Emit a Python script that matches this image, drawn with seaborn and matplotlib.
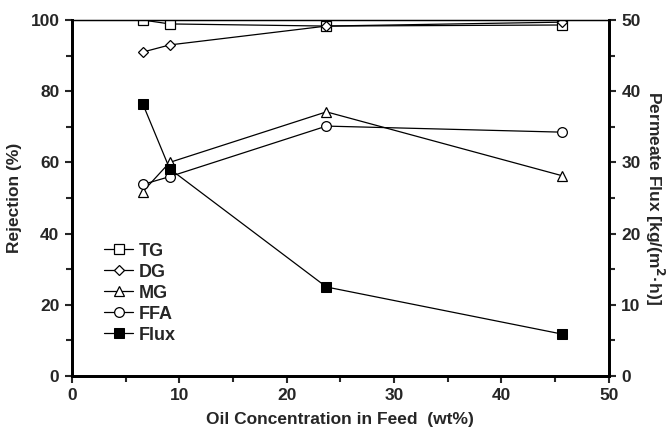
import matplotlib
matplotlib.use("Agg")
import matplotlib.pyplot as plt
import pandas as pd
import seaborn as sns
from matplotlib.ticker import MultipleLocator

# oil concentration in feed (wt%)
oil_conc = [6.6, 9.1, 23.7, 45.6]

# rejection (%)
tg = [100.0, 98.9, 98.3, 98.6]
dg = [91.0, 93.0, 98.3, 99.4]
mg = [51.8, 60.0, 74.2, 56.3]
ffa = [53.8, 56.0, 70.2, 68.5]

# permeate flux kg/(m2 h)
flux = [38.2, 29.1, 12.5, 5.9]

REJECTION_SERIES = [
    ("TG", tg, "s"),
    ("DG", dg, "D"),
    ("MG", mg, "^"),
    ("FFA", ffa, "o"),
]

sns.set_style("ticks")
plt.rcParams["font.family"] = ["Liberation Sans", "DejaVu Sans"]
plt.rcParams["font.weight"] = "bold"


def main():
    fig = plt.figure(figsize=(6.69, 4.38), dpi=100)
    ax = fig.add_axes([0.1076, 0.1416, 0.8024, 0.8127])
    ax2 = ax.twinx()

    handles = []
    for name, values, marker in REJECTION_SERIES:
        df = pd.DataFrame({"x": oil_conc, "y": values})
        size = 5.5 if marker == "D" else 7
        sns.lineplot(
            data=df, x="x", y="y", ax=ax,
            color="black", linewidth=0.9,
            marker=marker, markersize=size,
            markerfacecolor="white", markeredgecolor="black",
            markeredgewidth=0.9, label=name, legend=False,
        )
        handles.append(ax.lines[-1])

    flux_df = pd.DataFrame({"x": oil_conc, "y": flux})
    sns.lineplot(
        data=flux_df, x="x", y="y", ax=ax2,
        color="black", linewidth=0.9,
        marker="s", markersize=7,
        markerfacecolor="black", markeredgecolor="black",
        label="Flux", legend=False,
    )
    handles.append(ax2.lines[-1])

    ax.set_xlim(0, 50)
    ax.set_ylim(0, 100)
    ax2.set_ylim(0, 50)

    ax.xaxis.set_major_locator(MultipleLocator(10))
    ax.xaxis.set_minor_locator(MultipleLocator(5))
    ax.yaxis.set_major_locator(MultipleLocator(20))
    ax.yaxis.set_minor_locator(MultipleLocator(10))
    ax2.yaxis.set_major_locator(MultipleLocator(10))
    ax2.yaxis.set_minor_locator(MultipleLocator(5))

    for a in (ax, ax2):
        a.tick_params(which="major", direction="out", length=5, width=1.5,
                      labelsize=12.5, pad=4)
        a.tick_params(which="minor", direction="out", length=4, width=1.5)
        for spine in a.spines.values():
            spine.set_visible(True)
            spine.set_color("black")
        a.spines["left"].set_linewidth(2.0)
        a.spines["right"].set_linewidth(2.0)
        a.spines["bottom"].set_linewidth(2.0)
        a.spines["top"].set_linewidth(0.9)

    ax.set_xlabel("Oil Concentration in Feed  (wt%)", fontsize=12.5,
                  fontweight="bold", labelpad=6)
    ax.set_ylabel("Rejection (%)", fontsize=12.5, fontweight="bold", labelpad=6)
    ax2.set_ylabel("Permeate Flux [kg/(m$^\\mathbf{2}$·h)]", fontsize=12.5,
                   fontweight="bold", rotation=270, labelpad=18)

    leg = ax.legend(
        handles=handles,
        labels=["TG", "DG", "MG", "FFA", "Flux"],
        loc="upper left", bbox_to_anchor=(0.03, 0.42),
        frameon=False, fontsize=13, handlelength=1.6,
        handletextpad=0.3, labelspacing=0.22,
    )
    for text in leg.get_texts():
        text.set_fontweight("bold")

    fig.savefig("out.png", dpi=100)
    plt.close(fig)


if __name__ == "__main__":
    main()
